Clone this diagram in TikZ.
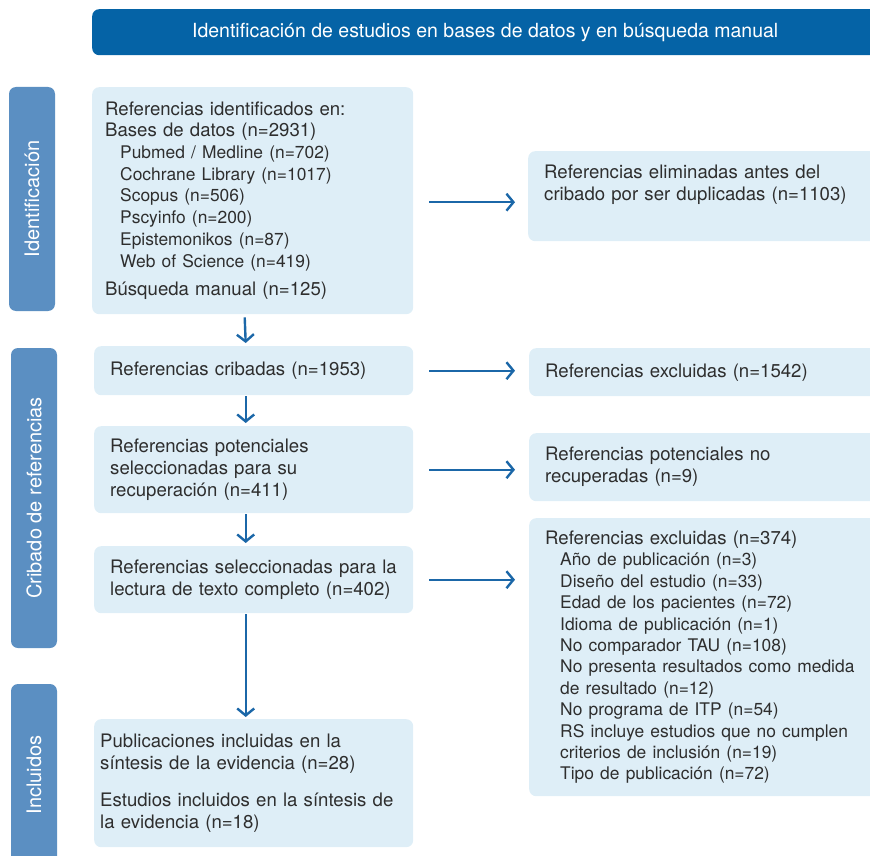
\documentclass[tikz,border=0pt]{standalone}
\usepackage{fontspec}
\setmainfont{TeX Gyre Heros}
\usetikzlibrary{arrows.meta}

\definecolor{hdrblue}{HTML}{0563A6}
\definecolor{barblue}{HTML}{5B8FC2}
\definecolor{boxblue}{HTML}{DEEEF7}
\definecolor{arrblue}{HTML}{1B67A8}
\definecolor{txtgray}{HTML}{2E2E2E}

% indented sub line, slightly smaller type
\newcommand{\sitem}[1]{\hspace*{15pt}{\fontsize{17.4}{21.5}\selectfont #1}}

\tikzset{
  box/.style={fill=boxblue, rounded corners=7pt, anchor=north west, align=left,
    text=txtgray, inner xsep=16pt, inner ysep=0pt,
    font=\fontsize{18.6}{22}\selectfont},
  bar/.style={fill=barblue, rounded corners=7pt, rotate=90, text=white,
    minimum height=46pt, inner sep=0pt, font=\fontsize{20}{22}\selectfont},
  flow/.style={draw=arrblue, line width=2.4pt,
    -{Straight Barb[length=7pt, width=17pt, line width=2.4pt]}}
}

\begin{document}
\begin{tikzpicture}[x=1pt, y=-1pt]
            \clip (0,0) rectangle (870,856);

            % header and side bars
            \node[fill=hdrblue, rounded corners=7pt, anchor=north west, minimum width=800pt,
                  minimum height=46pt, text=white, font=\fontsize{19.5}{22}\selectfont]
                  (head) at (92,9) {\hspace*{-14pt}Identificación de estudios en bases de datos y en búsqueda manual};
            \node[bar, minimum width=224pt] (lid) at (32,199) {Identificación};
            \node[bar, minimum width=300pt] (lcrib) at (34,498) {Cribado de referencias};
            \node[bar, minimum width=182pt] (linc) at (34,775) {Incluidos};

            % left column
            \node[box, text width=295pt, inner xsep=13pt, minimum height=227pt,
                  font=\fontsize{18.6}{21.7}\selectfont] (ident) at (92,87)
                  {Referencias identificados en:\\
                   Bases de datos (n=2931)\\
                   \sitem{Pubmed / Medline (n=702)}\\
                   \sitem{Cochrane Library (n=1017)}\\
                   \sitem{Scopus (n=506)}\\
                   \sitem{Pscyinfo (n=200)}\\
                   \sitem{Epistemonikos (n=87)}\\
                   \sitem{Web of Science (n=419)}\\[7pt]
                   Búsqueda manual (n=125)};
            \node[box, text width=287pt, minimum height=49pt] (crib) at (94,346)
                  {Referencias cribadas (n=1953)};
            \node[box, text width=287pt, minimum height=87pt] (pot) at (94,426)
                  {Referencias potenciales\\ seleccionadas para su\\ recuperación (n=411)};
            \node[box, text width=287pt, minimum height=67pt] (sel) at (94,546)
                  {Referencias seleccionadas para la\\ lectura de texto completo (n=402)};
            \node[box, text width=307pt, inner xsep=6pt, minimum height=128pt] (incl) at (94,719)
                  {Publicaciones incluidas en la\\ síntesis de la evidencia (n=28)\\[15pt]
                   Estudios incluidos en la síntesis de\\ la evidencia (n=18)};

            % right column
            \node[box, text width=320pt, minimum height=90pt] (dup) at (528,151)
                  {Referencias eliminadas antes del\\ cribado por ser duplicadas (n=1103)\par\vspace*{22pt}};
            \node[box, text width=319pt, minimum height=48pt] (exc1) at (529,348)
                  {Referencias excluidas (n=1542)};
            \node[box, text width=319pt, minimum height=68pt] (norec) at (529,433)
                  {Referencias potenciales no\\ recuperadas (n=9)};
            \node[box, text width=319pt, minimum height=278pt,
                  font=\fontsize{18.6}{21.4}\selectfont] (exc2) at (529,518)
                  {Referencias excluidas (n=374)\\
                   \sitem{Año de publicación (n=3)}\\
                   \sitem{Diseño del estudio (n=33)}\\
                   \sitem{Edad de los pacientes (n=72)}\\
                   \sitem{Idioma de publicación (n=1)}\\
                   \sitem{No comparador TAU (n=108)}\\
                   \sitem{No presenta resultados como medida}\\
                   \sitem{de resultado (n=12)}\\
                   \sitem{No programa de ITP (n=54)}\\
                   \sitem{RS incluye estudios que no cumplen}\\
                   \sitem{criterios de inclusión (n=19)}\\
                   \sitem{Tipo de publicación (n=72)}};

            % connectors
            \draw[flow] ([xshift=-8pt,yshift=-3pt]ident.south) -- ([xshift=-8pt,yshift=3pt]crib.north);
            \draw[flow] ([xshift=-8pt,yshift=-1pt]crib.south) -- ([xshift=-8pt,yshift=3pt]pot.north);
            \draw[flow] ([xshift=-8pt,yshift=-1pt]pot.south) -- ([xshift=-8pt,yshift=3pt]sel.north);
            \draw[flow] ([xshift=-8pt,yshift=-1pt]sel.south) -- ([xshift=-8pt,yshift=2pt]incl.north);
            \draw[flow] ([xshift=16pt,yshift=-1.5pt]ident.east) -- ([xshift=-13pt,yshift=-1.5pt]ident.east -| dup.west);
            \draw[flow] ([xshift=16pt]crib.east) -- ([xshift=-14pt]crib.east -| exc1.west);
            \draw[flow] ([xshift=16pt]pot.east) -- ([xshift=-14pt]pot.east -| exc1.west);
            \draw[flow] ([xshift=16pt]sel.east) -- ([xshift=-14pt]sel.east -| exc1.west);
        \end{tikzpicture}
\end{document}
